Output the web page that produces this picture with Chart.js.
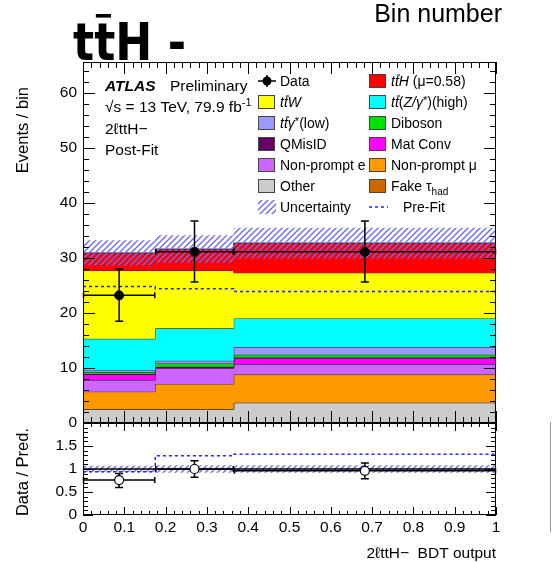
<!DOCTYPE html>
<html>
<head>
<meta charset="utf-8">
<script src="https://cdn.jsdelivr.net/npm/chart.js@4.4.1/dist/chart.umd.min.js"></script>
<style>
html, body { margin: 0; padding: 0; background: #fff; }
#wrap { position: relative; width: 552px; height: 562px; background: #fff; overflow: hidden; }
#wrap canvas { position: absolute; left: 0; top: 0; }
</style>
</head>
<body>
<div id="wrap">
  <canvas id="main" width="552" height="562"></canvas>
  <canvas id="ratio" width="552" height="562"></canvas>
</div>
<script>
// 2l ttH- BDT output, post-fit, three variable-width bins

const binEdges = [0, 0.175, 0.365, 1];
const binCenters = [0.0875, 0.27, 0.6825];

// post-fit yields per bin (stack bottom first)
const otherYield   = [2.5, 2.5, 3.7];
const fakeTauYield = [0, 0, 0];
const npMuYield    = [3.2, 4.6, 5.1];
const npEYield     = [2.1, 2.8, 1.9];
const matConvYield = [1.0, 0.2, 1.1];
const qMisIDYield  = [0.1, 0.1, 0.1];
const dibosonYield = [0.3, 0.6, 0.5];
const ttGammaYield = [0.4, 0.5, 1.4];
const ttZYield     = [5.7, 5.9, 5.2];
const ttWYield     = [12.4, 10.5, 8.3];
const ttHYield     = [3.2, 3.9, 5.4];

const uncHigh = [33.2, 34.1, 35.5];
const uncLow  = [28.6, 29.1, 29.9];
const preFitYield = [24.8, 24.4, 23.9];

const dataYield   = [23.2, 31.1, 31.1];
const dataErrUp   = [4.8, 5.6, 5.6];
const dataErrDown = [4.7, 5.5, 5.5];

const ratioData    = [0.76, 1.0, 0.96];
const ratioErrUp   = [0.14, 0.18, 0.17];
const ratioErrDown = [0.16, 0.18, 0.17];
const ratioUncHigh = [1.07, 1.08, 1.08];
const ratioUncLow  = [0.93, 0.92, 0.92];
const ratioPreFit  = [0.94, 1.29, 1.32];

const mainYTicks  = [0, 10, 20, 30, 40, 50, 60];
const ratioYTicks = [0, 0.5, 1, 1.5];
const ratioYLabels = ['0', '0.5', '1', '1.5'];
const xTicks      = [0, 0.1, 0.2, 0.3, 0.4, 0.5, 0.6, 0.7, 0.8, 0.9, 1];
const xTickLabels = ['0', '0.1', '0.2', '0.3', '0.4', '0.5', '0.6', '0.7', '0.8', '0.9', '1'];

const FONT = '"Liberation Sans", Arial, Helvetica, sans-serif';

const samples = [
    { values: otherYield,   color: '#cccccc' },
    { values: fakeTauYield, color: '#cc6600' },
    { values: npMuYield,    color: '#ff9900' },
    { values: npEYield,     color: '#cc66ff' },
    { values: matConvYield, color: '#ff00ff' },
    { values: qMisIDYield,  color: '#660066' },
    { values: dibosonYield, color: '#00e000' },
    { values: ttGammaYield, color: '#9999ff' },
    { values: ttZYield,     color: '#00ffff' },
    { values: ttWYield,     color: '#ffff00' },
    { values: ttHYield,     color: '#ff0000' }
];

// histogram outline as stepped line points
function stepPoints(vals) {
    return binEdges.map(function (e, i) {
        return { x: e, y: vals[Math.min(i, vals.length - 1)] };
    });
}

function hatchPattern(ctx, color) {
    const c = document.createElement('canvas');
    c.width = 6; c.height = 6;
    const p = c.getContext('2d');
    p.strokeStyle = color;
    p.lineWidth = 1.4;
    p.beginPath();
    p.moveTo(0, 6); p.lineTo(6, 0);
    p.moveTo(-1, 1); p.lineTo(1, -1);
    p.moveTo(5, 7); p.lineTo(7, 5);
    p.stroke();
    return ctx.createPattern(c, 'repeat');
}

// ROOT style frame with inward ticks on all four sides
function frameTicks(chart, o) {
    const ctx = chart.ctx, a = chart.chartArea;
    const xs = chart.scales.x, ys = chart.scales.y;
    ctx.save();
    ctx.strokeStyle = '#000';
    ctx.lineWidth = 1;
    ctx.beginPath();
    const nx = Math.round((xs.max - xs.min) / o.xMinor);
    for (let k = 0; k <= nx; k++) {
        const px = Math.round(xs.getPixelForValue(xs.min + k * o.xMinor)) + 0.5;
        const len = k % 5 === 0 ? o.xMajLen : o.xMajLen / 2;
        ctx.moveTo(px, a.bottom); ctx.lineTo(px, a.bottom - len);
        ctx.moveTo(px, a.top); ctx.lineTo(px, a.top + len);
    }
    const ny = Math.floor((ys.max - ys.min) / o.yMinor + 1e-6);
    for (let k = 0; k <= ny; k++) {
        const py = Math.round(ys.getPixelForValue(ys.min + k * o.yMinor)) + 0.5;
        const len = k % 5 === 0 ? o.yMajLen : o.yMajLen / 2;
        ctx.moveTo(a.left, py); ctx.lineTo(a.left + len, py);
        ctx.moveTo(a.right, py); ctx.lineTo(a.right - len, py);
    }
    ctx.stroke();
    ctx.strokeRect(Math.round(a.left) + 0.5, Math.round(a.top) + 0.5,
        Math.round(a.right - a.left) - 1, Math.round(a.bottom - a.top) - 1);
    ctx.restore();
}

const errorBarPlugin = {
    id: 'errorBars',
    beforeDatasetDraw(chart, args, opts) {
        if (args.index !== opts.dsIndex) return;
        const xs = chart.scales.x, ys = chart.scales.y, ctx = chart.ctx;
        const vals = opts.values, up = opts.up, dn = opts.down;
        ctx.save();
        ctx.strokeStyle = '#000';
        ctx.lineWidth = 1.5;
        ctx.beginPath();
        binCenters.forEach(function (c, i) {
            const px = xs.getPixelForValue(c), py = ys.getPixelForValue(vals[i]);
            const x0 = xs.getPixelForValue(binEdges[i]), x1 = xs.getPixelForValue(binEdges[i + 1]);
            const yU = ys.getPixelForValue(vals[i] + up[i]), yD = ys.getPixelForValue(vals[i] - dn[i]);
            ctx.moveTo(x0, py); ctx.lineTo(x1, py);
            ctx.moveTo(x0 + 0.5, py - 3); ctx.lineTo(x0 + 0.5, py + 3);
            ctx.moveTo(x1 - 0.5, py - 3); ctx.lineTo(x1 - 0.5, py + 3);
            ctx.moveTo(px, yU); ctx.lineTo(px, yD);
            ctx.moveTo(px - 4, yU); ctx.lineTo(px + 4, yU);
            ctx.moveTo(px - 4, yD); ctx.lineTo(px + 4, yD);
        });
        ctx.stroke();
        ctx.restore();
    }
};

// text made of pieces: italic, sub/superscript, overline on last char
function richText(ctx, x, y, parts, size) {
    let cx = x;
    parts.forEach(function (p) {
        const fs = size * (p.scale || 1);
        ctx.font = (p.italic ? 'italic ' : '') + (p.bold ? 'bold ' : '') + fs + 'px ' + FONT;
        ctx.fillText(p.t, cx, y + (p.dy || 0));
        const w = ctx.measureText(p.t).width;
        if (p.bar) {
            const lw = ctx.measureText(p.t.slice(-1)).width;
            ctx.fillRect(cx + w - lw + fs * 0.15, y - fs * 0.82, lw * 0.8, 1);
        }
        cx += w;
    });
    return cx;
}

function textPlugin(pattern) {
    return {
        id: 'texts',
        afterDraw(chart) {
            const ctx = chart.ctx;
            ctx.save();
            ctx.fillStyle = '#000';
            ctx.textBaseline = 'alphabetic';
            ctx.textAlign = 'left';

            // cut-off header from the plot above
            ctx.save();
            ctx.translate(73, 60);
            ctx.scale(0.85, 1);
            ctx.font = 'bold 52px "DejaVu Sans", sans-serif';
            ctx.fillText('ttH -', 0, 0);
            const tw = ctx.measureText('t').width;
            ctx.fillRect(tw + 2, -46, tw * 0.72, 3.6);
            ctx.restore();
            ctx.font = '25px ' + FONT;
            ctx.textAlign = 'right';
            ctx.fillText('Bin number', 502, 22);
            ctx.textAlign = 'left';

            // ATLAS block
            richText(ctx, 105, 91, [{ t: 'ATLAS', italic: true, bold: true }], 15.5);
            richText(ctx, 170, 91, [{ t: 'Preliminary' }], 15.5);
            richText(ctx, 105, 112, [{ t: '\u221As = 13 TeV, 79.9 fb' }, { t: '-1', scale: 0.7, dy: -6 }], 15.5);
            richText(ctx, 105, 134, [{ t: '2\u2113ttH\u2212' }], 15.5);
            richText(ctx, 105, 155, [{ t: 'Post-Fit' }], 15.5);

            // legend
            const rows = [86, 107, 128, 149, 170, 191, 212];
            const lx = 258, rx = 369, ltx = 280, rtx = 391;
            function box(x, y, color) {
                ctx.fillStyle = color;
                ctx.fillRect(x, y - 12, 17, 14);
                ctx.strokeStyle = '#444';
                ctx.lineWidth = 1;
                ctx.strokeRect(x + 0.5, y - 11.5, 16, 13);
                ctx.fillStyle = '#000';
            }
            // data marker
            ctx.strokeStyle = '#000';
            ctx.lineWidth = 1.5;
            ctx.beginPath();
            ctx.moveTo(lx, rows[0] - 5); ctx.lineTo(lx + 18, rows[0] - 5);
            ctx.moveTo(lx + 9, rows[0] - 11); ctx.lineTo(lx + 9, rows[0] + 1);
            ctx.stroke();
            ctx.beginPath();
            ctx.arc(lx + 9, rows[0] - 5, 4.5, 0, Math.PI * 2);
            ctx.fill();

            const sz = 14;
            richText(ctx, ltx, rows[0], [{ t: 'Data' }], sz);
            box(rx, rows[0], '#ff0000');
            richText(ctx, rtx, rows[0], [{ t: 'tt', italic: true, bar: true }, { t: 'H', italic: true }, { t: ' (\u03BC=0.58)' }], sz);

            box(lx, rows[1], '#ffff00');
            richText(ctx, ltx, rows[1], [{ t: 'tt', italic: true, bar: true }, { t: 'W', italic: true }], sz);
            box(rx, rows[1], '#00ffff');
            richText(ctx, rtx, rows[1], [{ t: 'tt', italic: true, bar: true }, { t: '(' }, { t: 'Z/\u03B3', italic: true }, { t: '*', scale: 0.8, dy: -3 }, { t: ')(high)' }], sz);

            box(lx, rows[2], '#9999ff');
            richText(ctx, ltx, rows[2], [{ t: 'tt', italic: true, bar: true }, { t: '\u03B3', italic: true }, { t: '*', scale: 0.8, dy: -3 }, { t: '(low)' }], sz);
            box(rx, rows[2], '#00e000');
            richText(ctx, rtx, rows[2], [{ t: 'Diboson' }], sz);

            box(lx, rows[3], '#660066');
            richText(ctx, ltx, rows[3], [{ t: 'QMisID' }], sz);
            box(rx, rows[3], '#ff00ff');
            richText(ctx, rtx, rows[3], [{ t: 'Mat Conv' }], sz);

            box(lx, rows[4], '#cc66ff');
            richText(ctx, ltx, rows[4], [{ t: 'Non-prompt e' }], sz);
            box(rx, rows[4], '#ff9900');
            richText(ctx, rtx, rows[4], [{ t: 'Non-prompt \u03BC' }], sz);

            box(lx, rows[5], '#cccccc');
            richText(ctx, ltx, rows[5], [{ t: 'Other' }], sz);
            box(rx, rows[5], '#cc6600');
            richText(ctx, rtx, rows[5], [{ t: 'Fake \u03C4' }, { t: 'had', scale: 0.72, dy: 4 }], sz);

            ctx.fillStyle = pattern;
            ctx.fillRect(lx, rows[6] - 12, 18, 14);
            ctx.fillStyle = '#000';
            richText(ctx, ltx, rows[6], [{ t: 'Uncertainty' }], sz);
            ctx.strokeStyle = '#2222ff';
            ctx.lineWidth = 1.5;
            ctx.setLineDash([3, 3]);
            ctx.beginPath();
            ctx.moveTo(rx, rows[6] - 5); ctx.lineTo(rx + 19, rows[6] - 5);
            ctx.stroke();
            ctx.setLineDash([]);
            richText(ctx, 403, rows[6], [{ t: 'Pre-Fit' }], sz);

            // axis titles
            ctx.font = '16.5px ' + FONT;
            ctx.save();
            ctx.translate(28, 87);
            ctx.rotate(-Math.PI / 2);
            ctx.textAlign = 'right';
            ctx.fillText('Events / bin', 0, 0);
            ctx.restore();
            ctx.save();
            ctx.translate(28, 428);
            ctx.rotate(-Math.PI / 2);
            ctx.textAlign = 'right';
            ctx.fillText('Data / Pred.', 0, 0);
            ctx.restore();
            ctx.font = '15.5px ' + FONT;
            ctx.textAlign = 'right';
            ctx.fillText('2\u2113ttH\u2212  BDT output', 496, 558);

            // edge of the neighbouring plot
            ctx.strokeStyle = '#999';
            ctx.lineWidth = 1;
            ctx.beginPath();
            ctx.moveTo(550.5, 422); ctx.lineTo(550.5, 532);
            ctx.stroke();
            ctx.restore();
        }
    };
}

document.addEventListener('DOMContentLoaded', function () {
    const mainCtx = document.getElementById('main').getContext('2d');
    const ratioCtx = document.getElementById('ratio').getContext('2d');
    const hatchMain = hatchPattern(mainCtx, '#6a6aff');
    const hatchRatio = hatchPattern(ratioCtx, '#6a6aff');

    // stack datasets; higher 'order' is painted first
    const datasets = [];
    let cum = [0, 0, 0];
    samples.forEach(function (s, idx) {
        cum = cum.map(function (c, i) { return c + s.values[i]; });
        datasets.push({
            data: stepPoints(cum),
            stepped: true,
            fill: idx === 0 ? 'origin' : '-1',
            backgroundColor: s.color,
            borderColor: '#222',
            borderWidth: 1,
            pointRadius: 0,
            order: 50 - idx
        });
    });
    datasets.push({
        data: stepPoints(uncLow), stepped: true, fill: false,
        borderColor: 'rgba(0,0,0,0)', borderWidth: 1, pointRadius: 0, order: 4
    });
    datasets.push({
        data: stepPoints(uncHigh), stepped: true, fill: '-1',
        backgroundColor: hatchMain, borderColor: 'rgba(0,0,0,0)', borderWidth: 1, pointRadius: 0, order: 3
    });
    datasets.push({
        data: stepPoints(preFitYield), stepped: true, fill: false,
        borderColor: '#2222ff', borderWidth: 1.5, borderDash: [3, 3], pointRadius: 0, order: 2
    });
    const dataIndex = datasets.length;
    datasets.push({
        data: binCenters.map(function (x, i) { return { x: x, y: dataYield[i] }; }),
        showLine: false, pointRadius: 4.5, pointBackgroundColor: '#000', pointBorderColor: '#000', order: 0
    });

    new Chart(mainCtx, {
        type: 'line',
        data: { datasets: datasets },
        options: {
            responsive: false,
            animation: false,
            events: [],
            layout: { padding: { top: 62, right: 56, bottom: 139, left: 0 } },
            scales: {
                x: { type: 'linear', min: 0, max: 1, display: false },
                y: {
                    type: 'linear', min: 0, max: 65.6,
                    afterFit: function (s) { s.width = 83; },
                    afterBuildTicks: function (s) { s.ticks = mainYTicks.map(function (v) { return { value: v }; }); },
                    grid: { display: false, drawTicks: false },
                    border: { display: false },
                    ticks: {
                        padding: 6, color: '#000', font: { family: FONT, size: 15.5 }, autoSkip: false,
                        callback: function (v) { return String(v); }
                    }
                }
            },
            plugins: {
                legend: { display: false },
                tooltip: { enabled: false },
                errorBars: { dsIndex: dataIndex, values: dataYield, up: dataErrUp, down: dataErrDown }
            }
        },
        plugins: [errorBarPlugin, {
            id: 'frame',
            afterDraw: function (chart) { frameTicks(chart, { xMinor: 0.02, xMajLen: 12, yMinor: 2, yMajLen: 12 }); }
        }, textPlugin(hatchMain)]
    });

    const rDatasets = [
        { data: stepPoints(ratioUncLow), stepped: true, fill: false, borderColor: 'rgba(0,0,0,0)', borderWidth: 1, pointRadius: 0, order: 5 },
        { data: stepPoints(ratioUncHigh), stepped: true, fill: '-1', backgroundColor: hatchRatio, borderColor: 'rgba(0,0,0,0)', borderWidth: 1, pointRadius: 0, order: 4 },
        { data: [{ x: 0, y: 1 }, { x: 1, y: 1 }], fill: false, borderColor: '#000', borderWidth: 1.5, pointRadius: 0, order: 3 },
        { data: stepPoints(ratioPreFit), stepped: true, fill: false, borderColor: '#2222ff', borderWidth: 1.5, borderDash: [3, 3], pointRadius: 0, order: 2 },
        {
            data: binCenters.map(function (x, i) { return { x: x, y: ratioData[i] }; }),
            showLine: false, pointRadius: 4.5, pointBackgroundColor: '#fff', pointBorderColor: '#000', pointBorderWidth: 1.2, order: 0
        }
    ];

    new Chart(ratioCtx, {
        type: 'line',
        data: { datasets: rDatasets },
        options: {
            responsive: false,
            animation: false,
            events: [],
            layout: { padding: { top: 423, right: 56, bottom: 17, left: 0 } },
            scales: {
                x: {
                    type: 'linear', min: 0, max: 1,
                    afterFit: function (s) { s.height = 30; },
                    afterBuildTicks: function (s) { s.ticks = xTicks.map(function (v) { return { value: v }; }); },
                    grid: { display: false, drawTicks: false },
                    border: { display: false },
                    ticks: {
                        padding: 3, color: '#000', font: { family: FONT, size: 15.5 }, autoSkip: false, maxRotation: 0,
                        callback: function (v, i) { return xTickLabels[i]; }
                    }
                },
                y: {
                    type: 'linear', min: 0, max: 2,
                    afterFit: function (s) { s.width = 83; },
                    afterBuildTicks: function (s) { s.ticks = ratioYTicks.map(function (v) { return { value: v }; }); },
                    grid: { display: false, drawTicks: false },
                    border: { display: false },
                    ticks: {
                        padding: 6, color: '#000', font: { family: FONT, size: 15.5 }, autoSkip: false,
                        callback: function (v, i) { return ratioYLabels[i]; }
                    }
                }
            },
            plugins: {
                legend: { display: false },
                tooltip: { enabled: false },
                errorBars: { dsIndex: 4, values: ratioData, up: ratioErrUp, down: ratioErrDown }
            }
        },
        plugins: [errorBarPlugin, {
            id: 'frame',
            afterDraw: function (chart) { frameTicks(chart, { xMinor: 0.02, xMajLen: 8, yMinor: 0.1, yMajLen: 10 }); }
        }]
    });
});
</script>
</body>
</html>
